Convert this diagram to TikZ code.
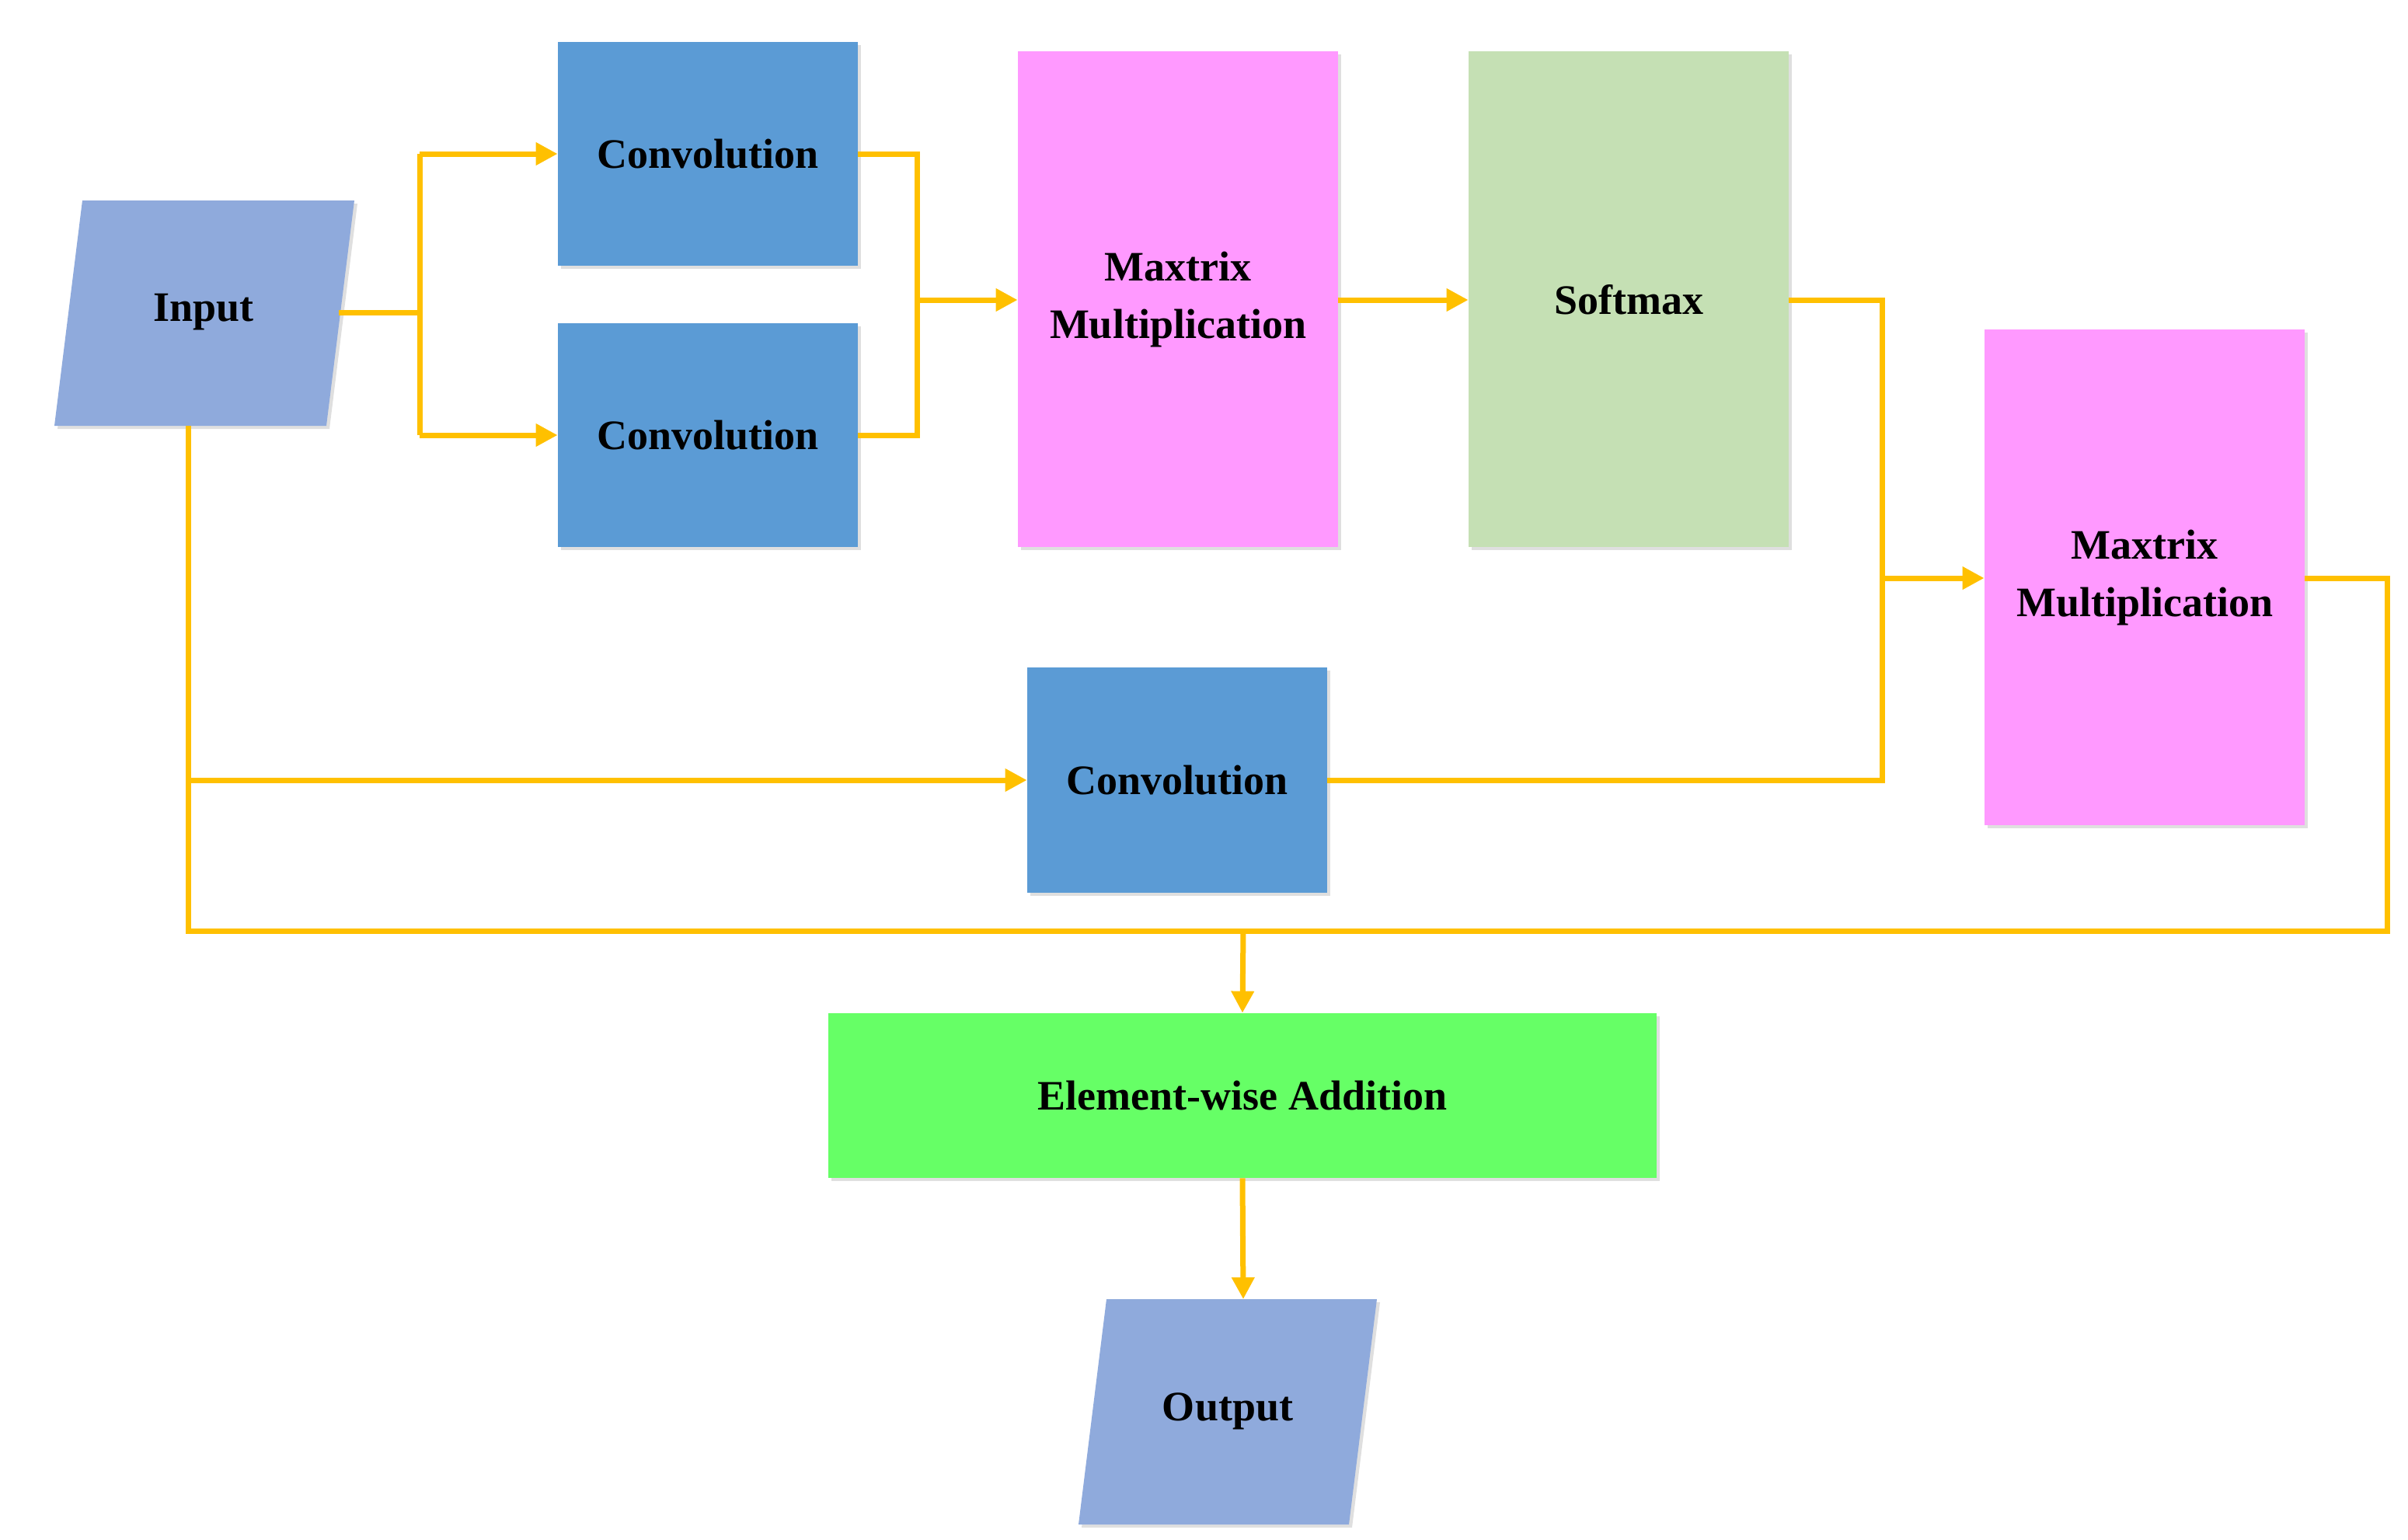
\documentclass[tikz,border=0pt]{standalone}
\usepackage{fontspec}
\setmainfont{Liberation Serif}
\usetikzlibrary{arrows.meta,shadows}
\definecolor{conv}{HTML}{5B9BD5}
\definecolor{io}{HTML}{8FAADC}
\definecolor{mag}{HTML}{FF99FF}
\definecolor{soft}{HTML}{C5E0B4}
\definecolor{grn}{HTML}{66FF66}
\definecolor{arr}{HTML}{FFC000}
\begin{document}
\begin{tikzpicture}[x=1pt,y=-1pt,
  box/.style={draw=none,inner sep=0pt,align=center,font=\fontsize{27}{33}\selectfont\bfseries,
    drop shadow={opacity=0.25,shadow xshift=2pt,shadow yshift=-2pt}},
  ln/.style={draw=arr,line width=3.5pt},
  ar/.style={ln,-{Triangle[length=14pt,width=14pt]}}]
\useasboundingbox (0,0) rectangle (1549.5,990.5);
% shapes
\node[box,fill=conv,minimum width=193pt,minimum height=144pt] (c1) at (455.5,99) {Convolution};
\node[box,fill=conv,minimum width=193pt,minimum height=144pt] (c2) at (455.5,280) {Convolution};
\node[box,fill=mag,minimum width=206pt,minimum height=319pt,anchor=north] (m1) at (758,33) {};
\node[font=\fontsize{27}{37}\selectfont\bfseries,align=center] (m1t) at (758,193) {Maxtrix\\Multiplication};
\node[box,fill=soft,minimum width=206pt,minimum height=319pt,anchor=north] (sm) at (1048,33) {};
\node[font=\fontsize{27}{33}\selectfont\bfseries] (smt) at (1048,193) {Softmax};
\node[box,fill=mag,minimum width=206pt,minimum height=319pt,anchor=north] (m2) at (1380,212) {};
\node[font=\fontsize{27}{37}\selectfont\bfseries,align=center] (m2t) at (1380,372) {Maxtrix\\Multiplication};
\node[box,fill=conv,minimum width=193pt,minimum height=145pt] (c3) at (757.5,502) {Convolution};
\node[box,fill=grn,minimum width=533pt,minimum height=106pt] (ea) at (799.5,705) {Element-wise Addition};
\fill[io,drop shadow={opacity=0.25,shadow xshift=2pt,shadow yshift=-2pt}] (53,129) -- (228,129) -- (210,274) -- (35,274) -- cycle;
\node[font=\fontsize{27}{33}\selectfont\bfseries] (in) at (131,201) {Input};
\fill[io,drop shadow={opacity=0.25,shadow xshift=2pt,shadow yshift=-2pt}] (712,836) -- (886,836) -- (868,981) -- (694,981) -- cycle;
\node[font=\fontsize{27}{33}\selectfont\bfseries] (out) at (790,908) {Output};
% coordinates
\coordinate (inR) at (218,201);
\coordinate (j1) at (270,201);
\coordinate (j1a) at (270,99);
\coordinate (j1b) at (270,280);
\coordinate (j2a) at (590,99);
\coordinate (j2b) at (590,280);
\coordinate (j2) at (590,193);
\coordinate (j3a) at (1211,193);
\coordinate (j3b) at (1211,502);
\coordinate (j3) at (1211,372);
\coordinate (j4a) at (1536,372);
\coordinate (j4b) at (1536,599);
\coordinate (inB) at (121,274);
\coordinate (j5) at (121,599);
\coordinate (j6) at (121,502);
\coordinate (j7) at (800,599);
% connectors
\draw[ln] (inR) -- (j1);
\draw[ln] (j1a) -- (j1b);
\draw[ar] (j1a) -- (c1.west);
\draw[ar] (j1b) -- (c2.west);
\draw[ln] (c1.east) -- (j2a) -- (j2b) -- (c2.east);
\draw[ar] (j2) -- (m1.west |- j2);
\draw[ar] (m1.east |- j2) -- (sm.west |- j2);
\draw[ln] (sm.east |- j3a) -- (j3a) -- (j3b) -- (c3.east);
\draw[ar] (j3) -- (m2.west |- j3);
\draw[ln] (m2.east |- j4a) -- (j4a) -- (j4b) -- (j5) -- (inB);
\draw[ar] (j6) -- (c3.west);
\draw[ar] (j7) -- (ea.north);
\draw[ar] (ea.south) -- (800,836);
\end{tikzpicture}
\end{document}
